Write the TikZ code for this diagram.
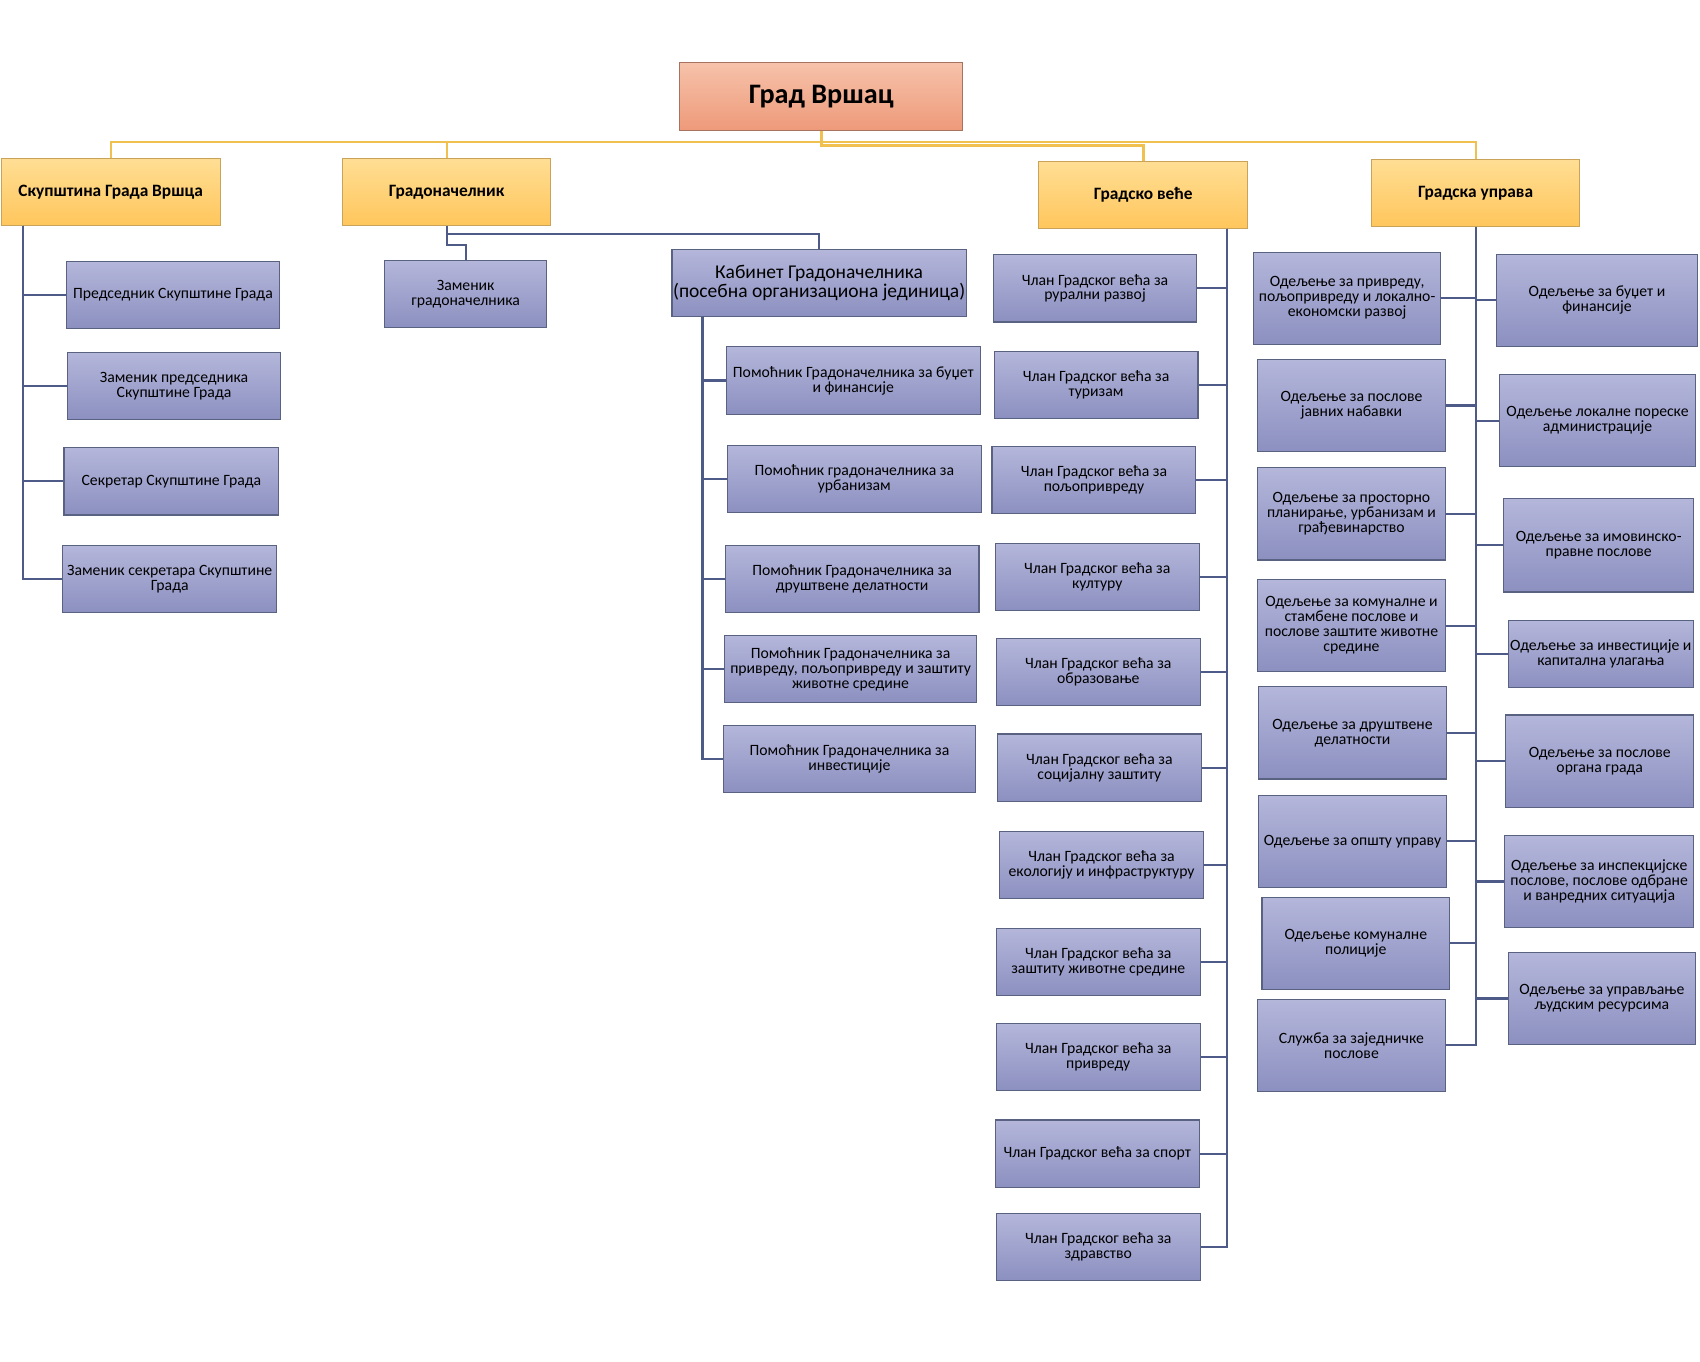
\documentclass[tikz,border=0pt]{standalone}
\usepackage{fontspec}
\setmainfont{Carlito}
\definecolor{btop}{HTML}{B4B6DA}
\definecolor{bbot}{HTML}{8C90C0}
\definecolor{bborder}{HTML}{5A6282}
\definecolor{ytop}{HTML}{FFDE94}
\definecolor{ybot}{HTML}{FFC65C}
\definecolor{yborder}{HTML}{C9A35A}
\definecolor{rtop}{HTML}{F6C2AA}
\definecolor{rbot}{HTML}{EE9A7A}
\definecolor{rborder}{HTML}{A87260}
\definecolor{bconn}{HTML}{4E5A88}
\definecolor{yconn}{HTML}{F0C050}
\begin{document}
\begin{tikzpicture}[x=1pt,y=-1pt,
  sz/.style 2 args={minimum width=#1pt, minimum height=#2pt},
  basebox/.style={rectangle, inner sep=1pt, align=center, line width=1pt},
  bluebox/.style={basebox, draw=bborder, top color=btop, bottom color=bbot, text=black,
    font=\fontsize{14.5}{13.8}\selectfont},
  yelbox/.style={basebox, draw=yborder, top color=ytop, bottom color=ybot, text=black,
    font=\fontsize{16}{16}\selectfont\bfseries},
  rootbox/.style={basebox, draw=rborder, top color=rtop, bottom color=rbot, text=black,
    font=\fontsize{26}{26}\selectfont\bfseries},
  bline/.style={draw=bconn, line width=2pt},
  yline/.style={draw=yconn, line width=1.9pt}
]
\useasboundingbox (0,0) rectangle (1568,1256);

% root and level 1
\node[rootbox, sz={261}{62}] (root) at (757.5,89) {Град Вршац};
\node[yelbox, sz={202}{62}] (skup) at (102,177) {Скупштина Града Вршца};
\node[yelbox, sz={192}{62}] (grad) at (412,177) {Градоначелник};
\node[yelbox, sz={193}{62}] (vece) at (1054.5,180) {Градско веће};
\node[yelbox, sz={192}{62}] (uprava) at (1361,178) {Градска управа};

% Skupstina children
\node[bluebox, sz={197}{62}] (s1) at (159.5,272) {Председник Скупштине Града};
\node[bluebox, sz={197}{62}] (s2) at (160.5,356) {Заменик председника\\Скупштине Града};
\node[bluebox, sz={198}{62}] (s3) at (158,444) {Секретар Скупштине Града};
\node[bluebox, sz={197}{62}] (s4) at (156.5,534) {Заменик секретара Скупштине\\Града};

% Gradonacelnik children
\node[bluebox, sz={149}{62}] (zam) at (429.5,271) {Заменик\\градоначелника};
\node[bluebox, sz={269}{62}, font=\fontsize{18}{17}\selectfont] (kab) at (755.5,261) {Кабинет Градоначелника\\(посебна организациона јединица)};
\node[bluebox, sz={234}{62}] (p1) at (787,351) {Помоћник Градоначелника за буџет\\и финансије};
\node[bluebox, sz={234}{62}] (p2) at (788,442) {Помоћник градоначелника за\\урбанизам};
\node[bluebox, sz={234}{62}] (p3) at (786,534) {Помоћник Градоначелника за\\друштвене делатности};
\node[bluebox, sz={233}{62}] (p4) at (784.5,617) {Помоћник Градоначелника за\\привреду, пољопривреду и заштиту\\животне средине};
\node[bluebox, sz={233}{62}] (p5) at (783.5,700) {Помоћник Градоначелника за\\инвестиције};

% Gradsko vece children
\node[bluebox, sz={188}{62}] (v1) at (1010,266) {Члан Градског већа за\\рурални развој};
\node[bluebox, sz={188}{62}] (v2) at (1011,355) {Члан Градског већа за\\туризам};
\node[bluebox, sz={188}{62}] (v3) at (1009,443) {Члан Градског већа за\\пољопривреду};
\node[bluebox, sz={188}{62}] (v4) at (1012,532) {Члан Градског већа за\\културу};
\node[bluebox, sz={188}{62}] (v5) at (1013,620) {Члан Градског већа за\\образовање};
\node[bluebox, sz={188}{62}] (v6) at (1014,708) {Члан Градског већа за\\социјалну заштиту};
\node[bluebox, sz={188}{62}] (v7) at (1016,798) {Члан Градског већа за\\екологију и инфраструктуру};
\node[bluebox, sz={188}{62}] (v8) at (1013,887) {Члан Градског већа за\\заштиту животне средине};
\node[bluebox, sz={188}{62}] (v9) at (1013,975) {Члан Градског већа за\\привреду};
\node[bluebox, sz={188}{62}] (v10) at (1012,1064) {Члан Градског већа за спорт};
\node[bluebox, sz={188}{62}] (v11) at (1013,1150) {Члан Градског већа за\\здравство};

% Gradska uprava, left column
\node[bluebox, sz={173}{85}] (L1) at (1242.5,275) {Одељење за привреду,\\пољопривреду и локално-\\економски развој};
\node[bluebox, sz={173}{85}] (L2) at (1246.5,374) {Одељење за послове\\јавних набавки};
\node[bluebox, sz={173}{85}] (L3) at (1246.5,474) {Одељење за просторно\\планирање, урбанизам и\\грађевинарство};
\node[bluebox, sz={173}{85}] (L4) at (1246.5,577) {Одељење за комуналне и\\стамбене послове и\\послове заштите животне\\средине};
\node[bluebox, sz={173}{85}] (L5) at (1247.5,676) {Одељење за друштвене\\делатности};
\node[bluebox, sz={173}{85}] (L6) at (1247.5,776) {Одељење за општу управу};
\node[bluebox, sz={173}{85}] (L7) at (1250.5,870) {Одељење комуналне\\полиције};
\node[bluebox, sz={173}{85}] (L8) at (1246.5,964) {Служба за заједничке\\послове};

% Gradska uprava, right column
\node[bluebox, sz={186}{85}] (R1) at (1473,277) {Одељење за буџет и\\финансије};
\node[bluebox, sz={181}{85}] (R2) at (1473.5,388) {Одељење локалне пореске\\администрације};
\node[bluebox, sz={175}{86}] (R3) at (1474.5,503) {Одељење за имовинско-\\правне послове};
\node[bluebox, sz={171}{62}] (R4) at (1476.5,603) {Одељење за инвестиције и\\капитална улагања};
\node[bluebox, sz={173}{85}] (R5) at (1475.5,702) {Одељење за послове\\органа града};
\node[bluebox, sz={174}{85}] (R6) at (1475,813) {Одељење за инспекцијске\\послове, послове одбране\\и ванредних ситуација};
\node[bluebox, sz={173}{85}] (R7) at (1477.5,921) {Одељење за управљање\\људским ресурсима};

% yellow connectors
\coordinate (ybar) at (0,131);
\coordinate (ybar2) at (0,134.5);
\draw[yline] (skup.north) |- (uprava.north |- ybar) -- (uprava.north);
\draw[yline] (grad.north) -- (grad.north |- ybar);
\draw[yline, line width=2.6pt] (root.south) |- (ybar2 -| vece.north) -- (vece.north);

% Skupstina connectors
\coordinate (skL) at (21,208);
\foreach \n in {s1,s2,s3,s4} \draw[bline] (skL) |- (\n.west);

% Gradonacelnik connectors
\coordinate (gJ) at (412,216);
\draw[bline] (grad.south) -- (gJ) -| (kab.north);
\draw[bline] (gJ) -- ++(0,10) -| (zam.north);
\coordinate (kL) at (648,292);
\foreach \n in {p1,p2,p3,p4,p5} \draw[bline] (kL) |- (\n.west);

% Vece connectors
\coordinate (vR) at (1132,211);
\foreach \n in {v1,v2,v3,v4,v5,v6,v7,v8,v9,v10,v11} \draw[bline] (vR) |- (\n.east);

% Uprava connectors
\foreach \n in {L1,L2,L3,L4,L5,L6,L7,L8} \draw[bline] (uprava.south) |- (\n.east);
\foreach \n in {R1,R2,R3,R4,R5,R6,R7} \draw[bline] (uprava.south) |- (\n.west);
\end{tikzpicture}
\end{document}
